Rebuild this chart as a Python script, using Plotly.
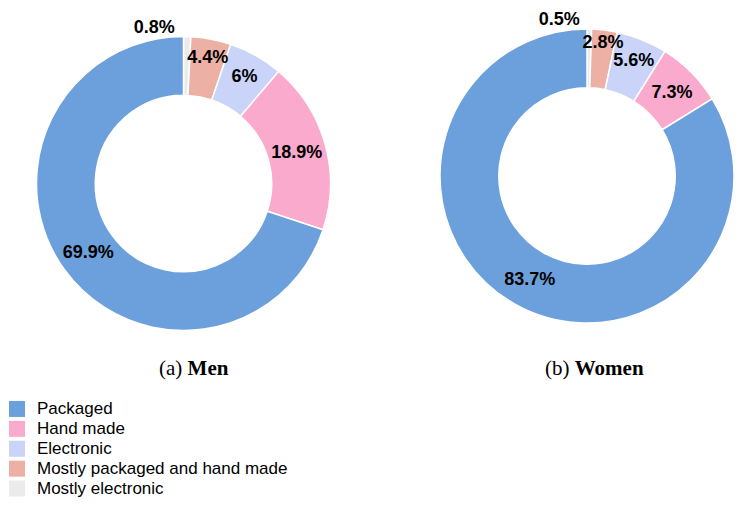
import plotly.graph_objects as go

categories = ["Packaged", "Hand made", "Electronic",
              "Mostly packaged and hand made", "Mostly electronic"]
men_values = [69.9, 18.9, 6, 4.4, 0.8]
women_values = [83.7, 7.3, 5.6, 2.8, 0.5]
colors = ["#6CA0DC", "#FAAACD", "#C9D4F8", "#ECB1A4", "#EBEBEB"]
inside_shown = [True, True, True, True, False]   # last category labelled outside
captions = ["(a) <b>Men</b>", "(b) <b>Women</b>"]

W, H = 741, 506
label_font = dict(family="Liberation Sans, Arial", size=18, color="black", weight="bold")
CLEAR = "rgba(0,0,0,0)"

fig = go.Figure()

def add_pie(values, dom_x, dom_y):
    dom = dict(x=dom_x, y=dom_y)
    common = dict(sort=False, direction="clockwise", rotation=0, hole=0.6,
                  domain=dom, showlegend=False)
    # visible ring: last category first, clockwise from 12 o'clock
    fig.add_trace(go.Pie(
        labels=categories[::-1], values=values[::-1],
        marker=dict(colors=colors[::-1], line=dict(color="white", width=1.5)),
        textinfo="none", hoverinfo="label+value", **common,
    ))
    # transparent twin (same geometry) carrying the inside labels on top of all slices
    fig.add_trace(go.Pie(
        labels=categories[::-1], values=values[::-1],
        marker=dict(colors=[CLEAR] * len(values), line=dict(width=0)),
        texttemplate=["%{value}%" if s else "" for s in inside_shown[::-1]],
        textposition=["inside" if s else "none" for s in inside_shown[::-1]],
        insidetextorientation="horizontal",
        textfont=label_font, insidetextfont=label_font,
        hoverinfo="skip", **common,
    ))
    # transparent mirrored twin carrying the outside label left of 12 o'clock
    fig.add_trace(go.Pie(
        labels=categories, values=values,
        marker=dict(colors=[CLEAR] * len(values), line=dict(width=0)),
        texttemplate=["" if s else "%{value}%" for s in inside_shown],
        textposition=["none" if s else "outside" for s in inside_shown],
        textfont=label_font, outsidetextfont=label_font,
        hoverinfo="skip", **common,
    ))

add_pie(men_values, [36.5 / W, 330.5 / W], [1 - 330.5 / H, 1 - 36.5 / H])
add_pie(women_values, [440 / W, 734 / W], [1 - 323 / H, 1 - 29 / H])

# legend proxies with square symbols
for cat, col in zip(categories, colors):
    fig.add_trace(go.Scatter(
        x=[None], y=[None], mode="markers",
        marker=dict(symbol="square", size=16, color=col),
        name=f"<span style='font-size:17px'>{cat}</span>",
        showlegend=True,
    ))

for cap, cx in zip(captions, [193.5, 594.5]):
    fig.add_annotation(text=cap, x=cx / W, y=1 - 368 / H, xref="paper", yref="paper",
                       xanchor="center", yanchor="middle", showarrow=False,
                       font=dict(family="Liberation Serif", size=21, color="black"))

fig.update_layout(
    width=W, height=H,
    margin=dict(l=0, r=0, t=0, b=0, autoexpand=False),
    paper_bgcolor="white", plot_bgcolor="white",
    uniformtext=dict(minsize=18, mode="show"),
    xaxis=dict(visible=False), yaxis=dict(visible=False),
    legend=dict(x=-3 / W, y=1 - 394 / H, xanchor="left", yanchor="top",
                font=dict(family="Liberation Sans, Arial", size=13, color="black"),
                bgcolor="rgba(0,0,0,0)", itemsizing="trace"),
)

fig.write_html("out.html", config={"displayModeBar": False},
               post_script="document.body.style.margin='0';document.body.style.overflow='hidden';")
